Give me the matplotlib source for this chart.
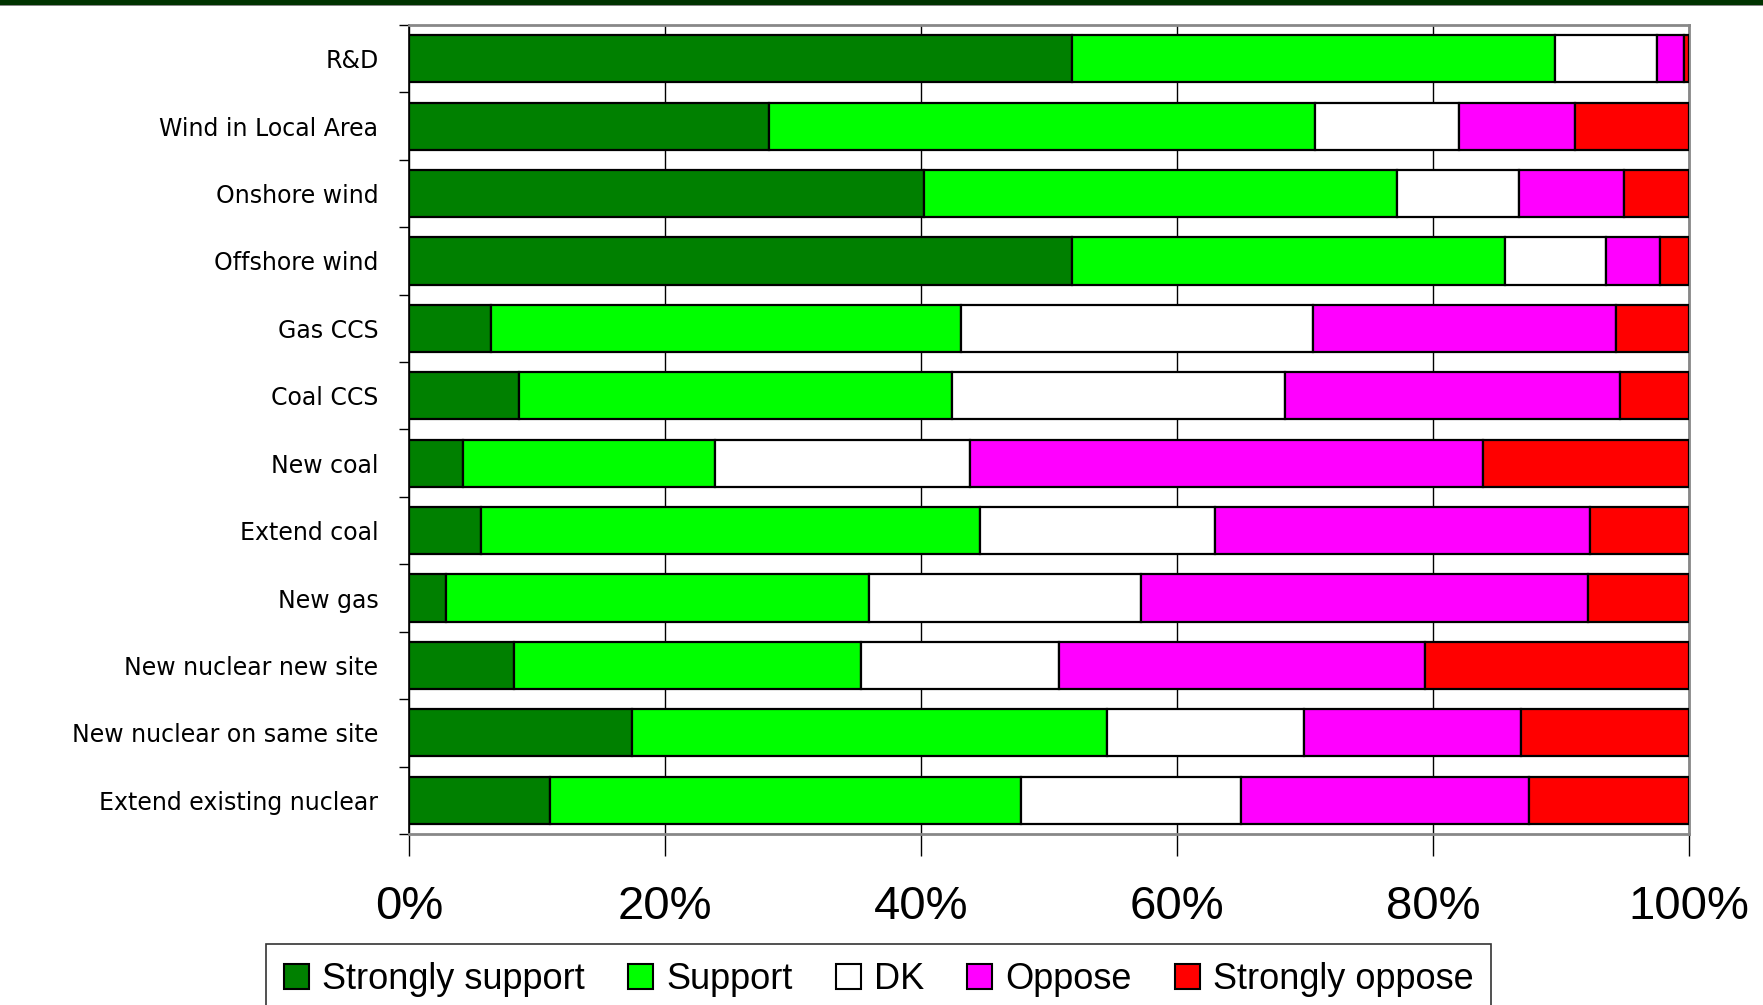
import matplotlib
matplotlib.use("Agg")
import matplotlib.pyplot as plt
import numpy as np
from matplotlib.patches import Rectangle

categories = ["R&D", "Wind in Local Area", "Onshore wind", "Offshore wind",
              "Gas CCS", "Coal CCS", "New coal", "Extend coal", "New gas",
              "New nuclear new site", "New nuclear on same site",
              "Extend existing nuclear"]

strongly_support = [51.8, 28.1, 40.2, 51.8, 6.4, 8.6, 4.2, 5.6, 2.9, 8.2, 17.4, 11.0]
support          = [37.7, 42.7, 37.0, 33.8, 36.7, 33.8, 19.7, 39.0, 33.0, 27.1, 37.1, 36.8]
dk               = [8.0, 11.2, 9.5, 7.9, 27.5, 26.0, 19.9, 18.4, 21.3, 15.5, 15.4, 17.2]
oppose           = [2.1, 9.1, 8.2, 4.2, 23.7, 26.2, 40.1, 29.3, 34.9, 28.6, 17.0, 22.5]
strongly_oppose  = [0.4, 8.9, 5.1, 2.3, 5.7, 5.4, 16.1, 7.7, 7.9, 20.6, 13.1, 12.5]

series_names = ["Strongly support", "Support", "DK", "Oppose", "Strongly oppose"]
series_colors = ["#008000", "#00FF00", "#FFFFFF", "#FF00FF", "#FF0000"]
x_ticks = [0, 20, 40, 60, 80, 100]
x_tick_labels = ["0%", "20%", "40%", "60%", "80%", "100%"]

W, H = 1763, 1005
fig = plt.figure(figsize=(W / 100, H / 100), dpi=100)
fig.patch.set_facecolor("white")

# dark band at top of slide
fig.add_artist(Rectangle((0, 1 - 5 / H), 1, 5 / H, transform=fig.transFigure,
                         facecolor="#003300", edgecolor="none"))
fig.add_artist(Rectangle((0, 1 - 6 / H), 1, 1 / H, transform=fig.transFigure,
                         facecolor="#888888", edgecolor="none"))

ax = fig.add_axes([409 / W, 1 - 834 / H, (1689 - 409) / W, (834 - 25) / H])

y = np.arange(len(categories))
left = np.zeros(len(categories))
data = [strongly_support, support, dk, oppose, strongly_oppose]
for vals, name, col in zip(data, series_names, series_colors):
    ax.barh(y, vals, left=left, height=0.7, color=col, edgecolor="black",
            linewidth=1.6, label=name, zorder=3)
    left += np.array(vals)

ax.set_xlim(0, 100)
ax.set_ylim(len(categories) - 0.5, -0.5)

ax.set_xticks(x_ticks)
ax.set_xticklabels(x_tick_labels, fontsize=34, family="Liberation Sans")
ax.tick_params(axis="x", direction="out", length=16, width=1.0, color="black", pad=21)
ax.grid(axis="x", color="black", linewidth=1.0, zorder=0)

ax.set_yticks(y)
ax.set_yticklabels(categories, fontsize=17, family="DejaVu Sans")
ax.tick_params(axis="y", which="major", length=0, pad=22)
ax.set_yticks(np.arange(len(categories) + 1) - 0.5, minor=True)
ax.tick_params(axis="y", which="minor", direction="out", length=7, width=1.0, color="black")

for s in ["top", "right", "bottom"]:
    ax.spines[s].set_color("#888888")
    ax.spines[s].set_linewidth(2)
ax.spines["left"].set_color("black")
ax.spines["left"].set_linewidth(1.2)

leg = fig.legend(loc="upper left", bbox_to_anchor=(266 / W, 1 - 944 / H),
                 ncol=5, prop={"family": "Liberation Sans", "size": 26},
                 frameon=True, fancybox=False, edgecolor="black",
                 handlelength=0.7, handleheight=0.7, handletextpad=0.35,
                 columnspacing=1.2, borderpad=0.5, borderaxespad=0)
leg.get_frame().set_linewidth(1.2)
for h in leg.legend_handles:
    h.set_linewidth(1.5)

fig.savefig("out.png", dpi=100)
